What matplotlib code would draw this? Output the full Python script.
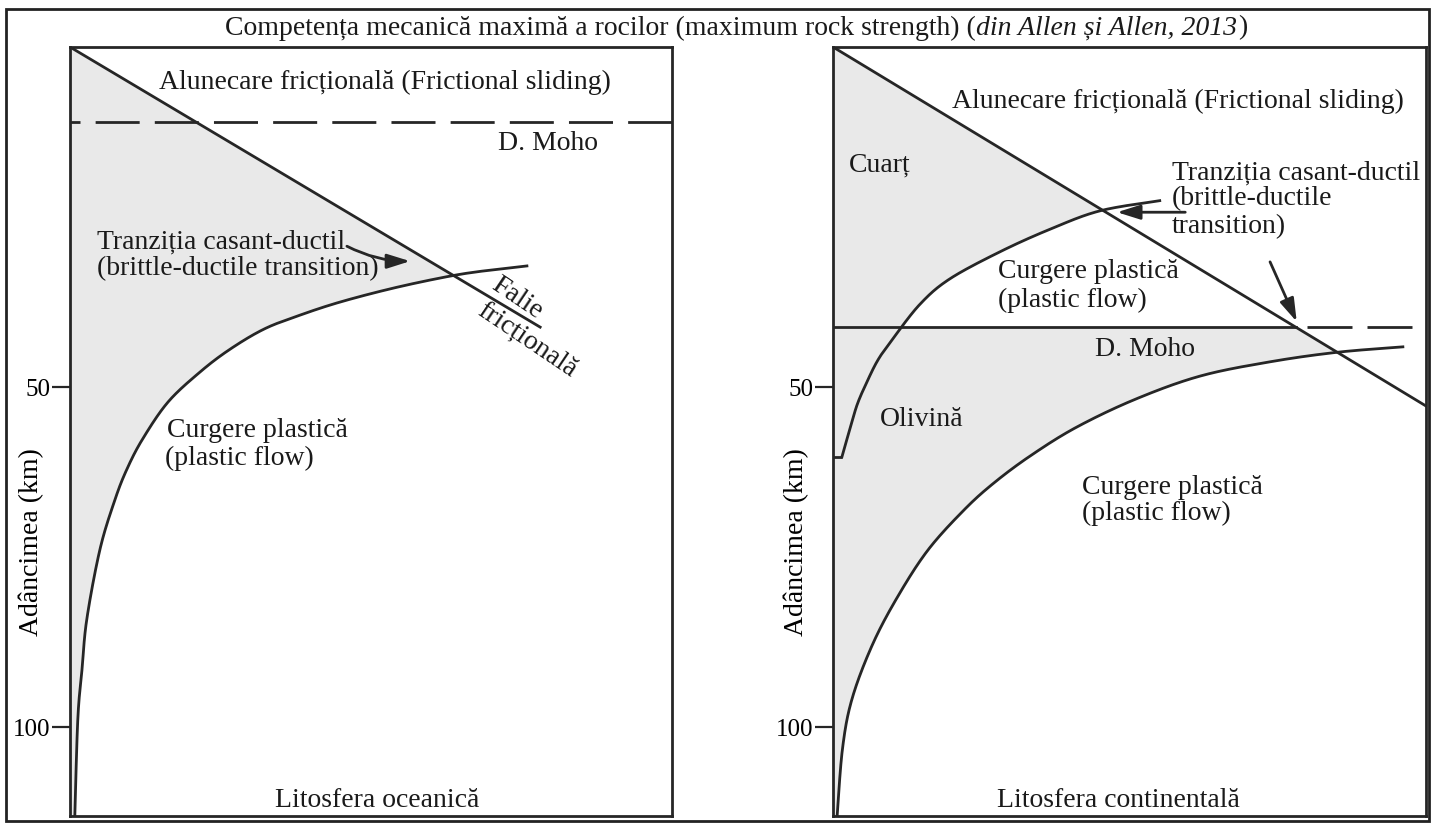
import numpy as np
import matplotlib
matplotlib.use("Agg")
import matplotlib.pyplot as plt
from matplotlib.patches import Rectangle

plt.rcParams['font.family'] = ['Liberation Serif', 'DejaVu Serif']
plt.rcParams['lines.scale_dashes'] = False

# ---------------- data (x: relative strength 0-100, y: depth km) ----------------
depth_ticks = [50, 100]
depth_max = 113.1

# Left panel: oceanic lithosphere
oc_frict_x = [0.0, 78.1]
oc_frict_d = [0.0, 41.2]
oc_flow_x = [75.9, 69.0, 63.1, 54.0, 44.9, 38.0, 32.2, 26.5, 21.6, 16.3, 12.1, 9.5, 7.5, 5.0, 2.8, 2.0, 1.3, 0.8]
oc_flow_d = [32.2, 32.9, 33.7, 35.4, 37.5, 39.5, 41.5, 44.5, 47.8, 52.2, 57.6, 62.0, 66.5, 73.8, 84.1, 91.5, 98.8, 113.1]
oc_moho_d = 11.0

# Right panel: continental lithosphere
co_frict_x = [0.0, 100.0]
co_frict_d = [0.0, 52.8]
co_quartz_x = [55.1, 45.0, 36.6, 28.2, 19.7, 14.7, 10.1, 7.6, 5.7, 4.2, 3.2, 1.5, 0.0]
co_quartz_d = [22.6, 24.1, 26.8, 30.1, 34.1, 37.8, 42.9, 46.0, 49.3, 52.3, 55.1, 60.3, 60.3]
co_olivine_x = [96.1, 85.0, 73.7, 61.9, 51.0, 41.1, 33.5, 27.3, 22.2, 16.0, 10.8, 6.6, 3.2, 1.6, 0.7]
co_olivine_d = [44.1, 44.9, 46.3, 48.4, 51.8, 55.9, 60.0, 64.0, 68.0, 74.0, 81.0, 88.0, 95.9, 103.2, 113.1]
co_moho_d = 41.2
co_moho_dash_x = [79.9, 97.6]

title_main = "Competența mecanică maximă a rocilor (maximum rock strength) ("
title_ital = "din Allen și Allen, 2013"
title_end = ")"
ylabel = "Adâncimea (km)"

LC = '#262626'
SHADE = '#e9e9e9'
LW = 2.0
FS = 20


def smooth(xs, ds, n=40):
    """Catmull-Rom (cubic Bezier) rendering through the read points."""
    p = np.column_stack([xs, ds]).astype(float)
    out = [p[:1]]
    t = np.linspace(0, 1, n)[1:, None]
    for i in range(len(p) - 1):
        p0 = p[i - 1] if i > 0 else p[i]
        p1, p2 = p[i], p[i + 1]
        p3 = p[i + 2] if i + 2 < len(p) else p[i + 1]
        c1 = p1 + (p2 - p0) / 6.0
        c2 = p2 - (p3 - p1) / 6.0
        seg = ((1 - t) ** 3) * p1 + 3 * ((1 - t) ** 2) * t * c1 + 3 * (1 - t) * t ** 2 * c2 + t ** 3 * p2
        out.append(seg)
    q = np.vstack(out)
    return q[:, 0], q[:, 1]


W, H = 1431, 828
fig = plt.figure(figsize=(W / 100, H / 100), dpi=100)
fig.patches.append(Rectangle((6 / W, 1 - 822 / H), 1423 / W, 812 / H, transform=fig.transFigure,
                             fill=False, lw=2.0, ec='#222222'))

axL = fig.add_axes([70 / W, 1 - 817 / H, 602 / W, 769 / H])
axR = fig.add_axes([833 / W, 1 - 817 / H, 593 / W, 769 / H])

for ax in (axL, axR):
    ax.set_xlim(0, 100)
    ax.set_ylim(depth_max, 0)
    ax.set_xticks([])
    ax.set_yticks(depth_ticks)
    ax.tick_params(axis='y', direction='out', length=13, width=1.6, labelsize=18, pad=1, color=LC)
    for s in ax.spines.values():
        s.set_linewidth(LW)
        s.set_color(LC)
    ax.set_ylabel(ylabel, fontsize=FS)
    ax.patch.set_alpha(0)

axL.yaxis.set_label_coords(-0.043, 0.358)
axR.yaxis.set_label_coords(-0.040, 0.358)

dg = np.linspace(0, depth_max, 4000)

# ---------------- left panel ----------------
fx, fd = smooth(oc_flow_x, oc_flow_d)
slopeL = oc_frict_x[1] / oc_frict_d[1]
order = np.argsort(fd)
xmaxL = np.minimum(dg * slopeL, np.interp(dg, fd[order], fx[order]))
axL.fill_betweenx(dg, 0, xmaxL, color=SHADE, lw=0, zorder=0)
axL.plot(oc_frict_x, oc_frict_d, color=LC, lw=LW)
axL.plot(fx, fd, color=LC, lw=LW)
axL.plot([0, 100], [oc_moho_d, oc_moho_d], color=LC, lw=LW, linestyle=(24.5, (31.7, 10.9)))

kw = dict(fontsize=FS, color='#1a1a1a')
axL.text(14.8, 5.0, "Alunecare fricțională (Frictional sliding)", va='center', ha='left', **kw)
axL.text(71.1, 14.0, "D. Moho", va='center', ha='left', **kw)
axL.text(4.5, 28.5, "Tranziția casant-ductil", va='center', ha='left', **kw)
axL.text(4.5, 32.4, "(brittle-ductile transition)", va='center', ha='left', **kw)
axL.text(16.1, 56.2, "Curgere plastică", va='center', ha='left', **kw)
axL.text(15.8, 60.3, "(plastic flow)", va='center', ha='left', **kw)
axL.text(74.3, 36.8, "Falie", va='center', ha='center', rotation=-34, rotation_mode='anchor', **kw)
axL.text(75.9, 42.9, "fricțională", va='center', ha='center', rotation=-34, rotation_mode='anchor', **kw)
axL.text(51.0, 110.6, "Litosfera oceanică", va='center', ha='center', **kw)
axL.annotate("", xy=(56.5, 31.5), xytext=(46.0, 29.3),
             arrowprops=dict(arrowstyle='-|>,head_length=0.7,head_width=0.22', mutation_scale=20,
                             color=LC, lw=LW, shrinkA=0, shrinkB=0, connectionstyle='arc3,rad=0.12'))

# ---------------- right panel ----------------
qx, qd = smooth(co_quartz_x[:-1], co_quartz_d[:-1])
ox, od = smooth(co_olivine_x, co_olivine_d)
slopeR = co_frict_x[1] / co_frict_d[1]
diag = dg * slopeR
oq = np.argsort(qd)
qz = np.interp(dg, qd[oq], qx[oq], left=np.inf)
oo = np.argsort(od)
ol = np.interp(dg, od[oo], ox[oo])
xmaxR = np.where(dg < co_moho_d, np.minimum(diag, qz), np.minimum(diag, ol))
axR.fill_betweenx(dg, 0, xmaxR, color=SHADE, lw=0, zorder=0)
axR.plot(co_frict_x, co_frict_d, color=LC, lw=LW)
axR.plot(qx, qd, color=LC, lw=LW)
axR.plot(co_quartz_x[-2:], co_quartz_d[-2:], color=LC, lw=LW, solid_capstyle='butt')
axR.plot(ox, od, color=LC, lw=LW)
axR.plot([0, co_moho_d * slopeR], [co_moho_d, co_moho_d], color=LC, lw=LW)
axR.plot(co_moho_dash_x, [co_moho_d, co_moho_d], color=LC, lw=LW, linestyle=(0, (32.4, 10.8)))

axR.text(20.1, 7.9, "Alunecare fricțională (Frictional sliding)", va='center', ha='left', **kw)
axR.text(7.9, 17.2, "Cuarț", va='center', ha='center', **kw)
axR.text(57.2, 18.4, "Tranziția casant-ductil", va='center', ha='left', **kw)
axR.text(57.2, 22.2, "(brittle-ductile", va='center', ha='left', **kw)
axR.text(57.2, 26.2, "transition)", va='center', ha='left', **kw)
axR.text(27.8, 32.9, "Curgere plastică", va='center', ha='left', **kw)
axR.text(27.8, 37.1, "(plastic flow)", va='center', ha='left', **kw)
axR.text(44.2, 44.4, "D. Moho", va='center', ha='left', **kw)
axR.text(7.9, 54.7, "Olivină", va='center', ha='left', **kw)
axR.text(42.0, 64.6, "Curgere plastică", va='center', ha='left', **kw)
axR.text(42.0, 68.4, "(plastic flow)", va='center', ha='left', **kw)
axR.text(48.1, 110.6, "Litosfera continentală", va='center', ha='center', **kw)
ap = dict(arrowstyle='-|>,head_length=0.7,head_width=0.22', mutation_scale=20,
          color=LC, lw=LW, shrinkA=0, shrinkB=0)
axR.annotate("", xy=(47.9, 24.3), xytext=(59.4, 24.3), arrowprops=ap)
axR.annotate("", xy=(78.2, 40.4), xytext=(73.7, 31.6), arrowprops=ap)

# ---------------- title ----------------
r = fig.canvas.get_renderer()
ty = 1 - 28 / H
t1 = fig.text(225 / W, ty, title_main, fontsize=FS, va='center', ha='left', color='#1a1a1a')
b1 = t1.get_window_extent(r)
t2 = fig.text(b1.x1 / W, ty, title_ital, fontsize=FS, style='italic', va='center', ha='left', color='#1a1a1a')
b2 = t2.get_window_extent(r)
fig.text(b2.x1 / W + 1 / W, ty, title_end, fontsize=FS, va='center', ha='left', color='#1a1a1a')

fig.savefig("out.png", dpi=100, facecolor='white')
